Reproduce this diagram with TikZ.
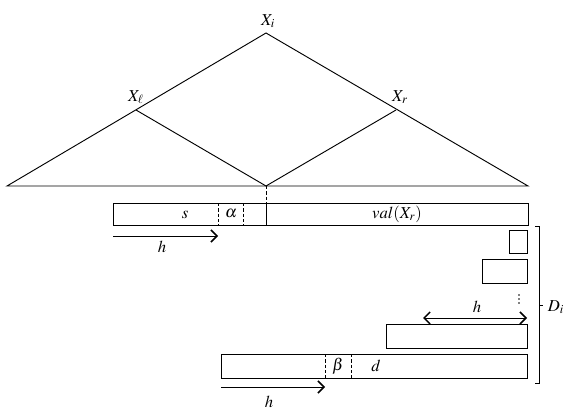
\documentclass[tikz,border=0pt]{standalone}
\usepackage{mathptmx}
\usetikzlibrary{arrows.meta}

\begin{document}
\begin{tikzpicture}[
  x=0.75pt, y=-0.75pt,
  font=\fontsize{12.5}{14}\selectfont,
  line width=0.7pt,
  >={Straight Barb[length=4.5pt,width=9pt,line width=1.1pt]},
  bar/.style={draw, line width=0.7pt},
  cut/.style={dashed, line width=0.7pt, dash pattern=on 2.5pt off 1.5pt},
  harrow/.style={->, line width=0.6pt},
  lbl/.style={inner sep=1pt},
]
\useasboundingbox (0,0) rectangle (581,417);

% tree
\coordinate (top) at (266,33);
\coordinate (bl) at (7,186);
\coordinate (br) at (528,186);
\coordinate (xl) at (136,110);
\coordinate (xr) at (396,110);
\coordinate (mid) at (266,186);

\draw (bl) -- (top) -- (br) -- cycle;
\draw (xl) -- (mid) -- (xr);

\node[lbl] (lxi) at (268,21) {$X_i$};
\node[lbl] (lxl) at (136,97) {$X_\ell$};
\node[lbl] (lxr) at (400,97) {$X_r$};

% top string
\coordinate (s0) at (113,203);
\coordinate (s1) at (528,225);
\draw[bar] (s0) rectangle (s1);
\coordinate (sdiv) at (266,203);
\draw (sdiv) -- (266,225);
\draw[cut] (mid) -- (sdiv);
\draw[cut] (218,203) -- (218,225);
\draw[cut] (243,203) -- (243,225);
\node[lbl] (ls) at (185,215) {$s$};
\node[lbl] (lalpha) at (231,214) {$\alpha$};
\node[lbl] (lval) at (397,214) {$val(X_r)$};

\coordinate (h0) at (113,236);
\coordinate (h1) at (218,236);
\draw[harrow] (h0) -- (h1);
\node[lbl] (lh0) at (162,247) {$h$};

% stack of strings
\draw[bar] (509,230) rectangle (527,253);
\draw[bar] (482,259) rectangle (527,283);
\foreach \y in {295,299,303}
  \fill (519,\y) circle (0.6pt);
\coordinate (d0) at (423,318);
\coordinate (d1) at (527,318);
\draw[harrow, <->] (d0) -- (d1);
\node[lbl] (lh1) at (477,307) {$h$};
\draw[bar] (386,324) rectangle (527,348);

\coordinate (t0) at (221,354);
\coordinate (t1) at (527,378);
\draw[bar] (t0) rectangle (t1);
\draw[cut] (325,354) -- (325,378);
\draw[cut] (351,354) -- (351,378);
\node[lbl] (lbeta) at (338,366) {$\beta$};
\node[lbl] (ld) at (376,366) {$d$};

\coordinate (g0) at (221,387);
\coordinate (g1) at (325,387);
\draw[harrow] (g0) -- (g1);
\node[lbl] (lh2) at (269,402) {$h$};

% brace
\draw (535,226) -- (539,226) -- (539,383) -- (535,383);
\draw (539,305) -- (543,305);
\node[lbl] (ldi) at (556,307) {$D_i$};

\end{tikzpicture}
\end{document}
